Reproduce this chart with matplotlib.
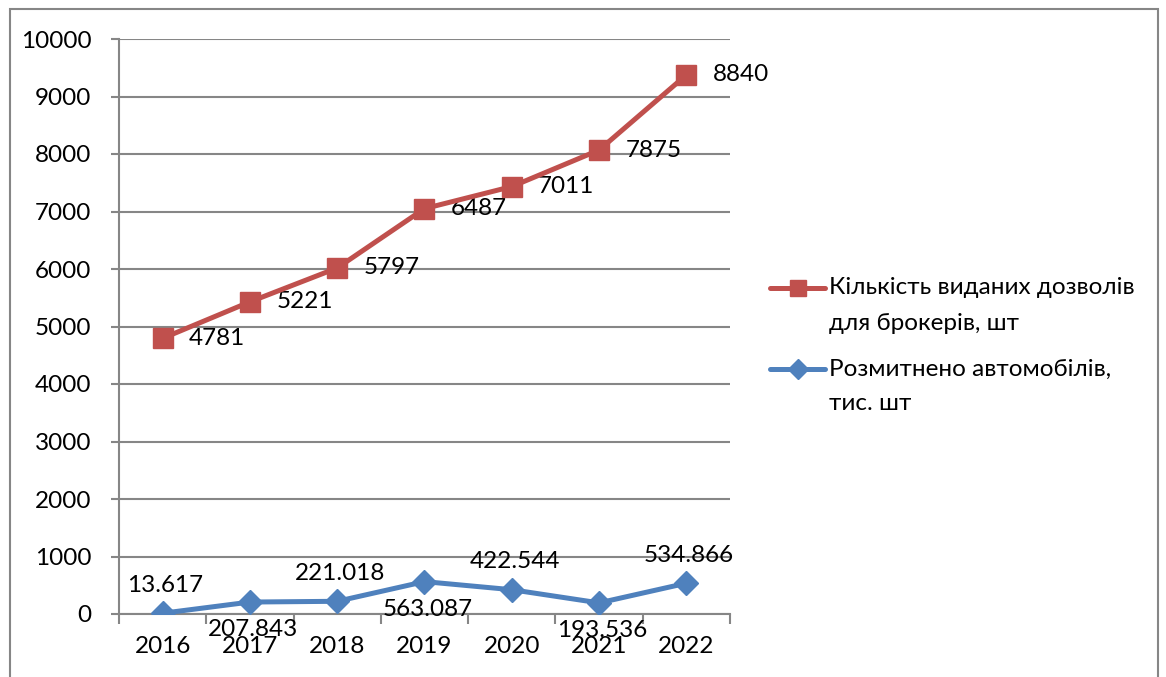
import matplotlib.pyplot as plt
import numpy as np
from matplotlib.lines import Line2D
from matplotlib.patches import Rectangle

plt.rcParams["font.family"] = ["Lato", "Open Sans", "DejaVu Sans"]

years = ["2016", "2017", "2018", "2019", "2020", "2021", "2022"]
permits = [4781, 5221, 5797, 6487, 7011, 7875, 8840]
cars = [13.617, 207.843, 221.018, 563.087, 422.544, 193.536, 534.866]
car_label_above = [True, False, True, False, True, False, True]

permits_name = ["Кількість виданих дозволів", "для брокерів, шт"]
cars_name = ["Розмитнено автомобілів,", "тис. шт"]

RED = "#C0504D"
BLUE = "#4F81BD"
GRID = "#868686"
FS = 17.5

W, H = 1166, 677
fig = plt.figure(figsize=(W / 100, H / 100), dpi=100)
ax = fig.add_axes([119 / W, 1 - 614 / H, (730 - 119) / W, (614 - 39) / H])

x = np.arange(len(years))
cars_arr = np.array(cars)
# stacked line chart: permits drawn on top of cars
permits_top = cars_arr + np.array(permits)

ax.plot(x, permits_top, color=RED, lw=3.6, marker="s", ms=14,
        solid_capstyle="round", zorder=4)
ax.plot(x, cars_arr, color=BLUE, lw=3.6, marker="D", ms=12,
        solid_capstyle="round", zorder=4)

for xi, yi, v in zip(x, permits_top, permits):
    ax.annotate(f"{v}", (xi, yi), xytext=(19, 0), textcoords="offset points",
                ha="left", va="center", fontsize=FS, color="black")

for xi, v, up in zip(x, cars, car_label_above):
    ax.annotate(f"{v:.3f}", (xi, v), xytext=(2, 20 if up else -20),
                textcoords="offset points", ha="center", va="center",
                fontsize=FS, color="black", zorder=5)

ax.set_xlim(-0.5, len(years) - 0.5)
ax.set_ylim(0, 10000)
ax.set_yticks(np.arange(0, 10001, 1000))
ax.set_xticks(x)
ax.set_xticklabels(years)
ax.set_xticks(np.arange(-0.5, len(years), 1.0), minor=True)
ax.tick_params(axis="x", which="major", length=0, pad=16, labelsize=FS)
ax.tick_params(axis="x", which="minor", length=7, width=1.5, color=GRID)
ax.tick_params(axis="y", length=6, width=1.5, color=GRID, pad=14,
               labelsize=FS)

ax.grid(axis="y", color=GRID, lw=1.5)
ax.set_axisbelow(True)
for side in ("top", "right"):
    ax.spines[side].set_visible(False)
for side in ("left", "bottom"):
    ax.spines[side].set_color(GRID)
    ax.spines[side].set_linewidth(1.5)

# legend drawn by hand: handle sits on the first text line
def legend_entry(y_px, color, marker, ms, lines):
    y = 1 - y_px / H
    fig.add_artist(Line2D([770 / W, 825 / W], [y, y], color=color, lw=3.6,
                          solid_capstyle="round", transform=fig.transFigure))
    fig.add_artist(Line2D([797.5 / W], [y], color=color, marker=marker,
                          ms=ms, transform=fig.transFigure))
    for i, line in enumerate(lines):
        fig.text(829 / W, 1 - (y_px + 35 * i) / H, line, fontsize=FS,
                 ha="left", va="center")


legend_entry(288, RED, "s", 12, permits_name)
legend_entry(369, BLUE, "D", 10, cars_name)

fig.add_artist(Rectangle((10 / W, -0.05), (1158 - 10) / W, 1.05 - 9 / H,
                         transform=fig.transFigure, fill=False,
                         edgecolor=GRID, lw=1.5))

fig.savefig("out.png", dpi=100, facecolor="white")
